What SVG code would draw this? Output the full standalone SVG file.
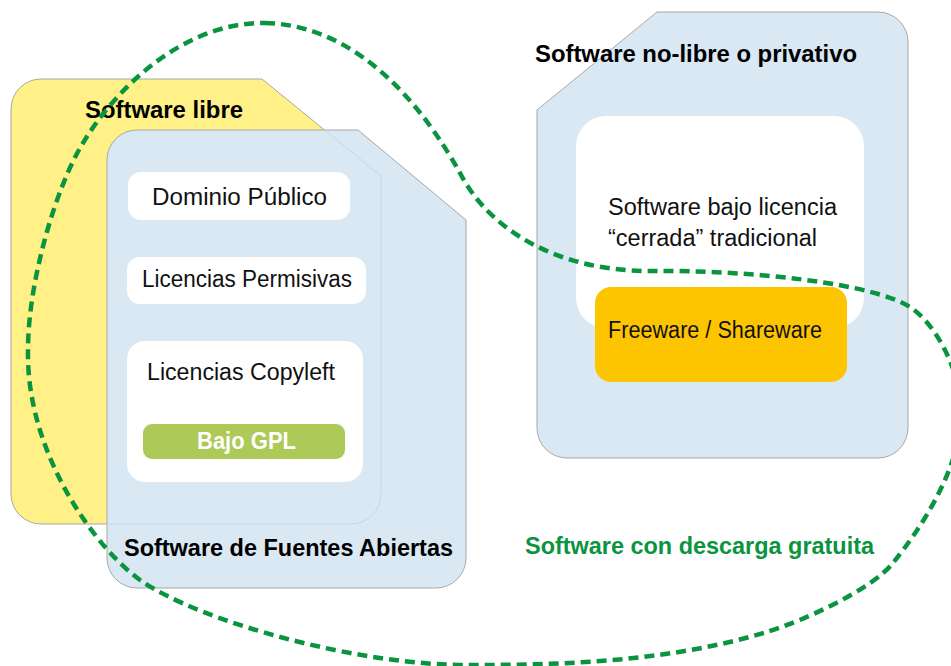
<svg xmlns="http://www.w3.org/2000/svg" width="951" height="666" viewBox="0 0 951 666">
  <style>
    .panel { stroke: #a8a8a8; stroke-width: 1; }
    .yellow { fill: #fff087; }
    .blue { fill: #d9e8f3; }
    .card { fill: #ffffff; }
    .t { font-family: "Liberation Sans", Arial, sans-serif; font-size: 23px; fill: #111111; }
    .title { font-family: "Liberation Sans", Arial, sans-serif; font-size: 24px; font-weight: bold; fill: #000000; }
    .green-title { font-family: "Liberation Sans", Arial, sans-serif; font-size: 24px; font-weight: bold; fill: #0a9440; }
    .gpl { font-family: "Liberation Sans", Arial, sans-serif; font-size: 23px; font-weight: bold; fill: #ffffff; }
    .ghost { fill: none; stroke: #c5d8e6; stroke-width: 1; }
    .boundary { fill: none; stroke: #0a9440; stroke-width: 4.5; stroke-dasharray: 10 6; }
  </style>

  <!-- Software libre -->
  <g id="software-libre">
    <path class="panel yellow" d="M 11,109 A 30,30 0 0 1 41,79 L 262,79 L 381,176 L 381,494 A 30,30 0 0 1 351,524 L 41,524 A 30,30 0 0 1 11,494 Z"/>
    <text class="title" x="85" y="118" textLength="158" lengthAdjust="spacingAndGlyphs">Software libre</text>
  </g>

  <!-- Software de Fuentes Abiertas -->
  <g id="fuentes-abiertas">
    <path class="panel blue" d="M 107,160 A 30,30 0 0 1 137,130 L 358,130 L 466,220 L 466,558 A 30,30 0 0 1 436,588 L 137,588 A 30,30 0 0 1 107,558 Z"/>
    <!-- outline of the free-software panel seen through the open-source panel -->
    <path class="ghost" d="M 325,130 L 381,176 L 381,494 A 30,30 0 0 1 351,524 L 107,524"/>
    <text class="title" x="124" y="556" textLength="329" lengthAdjust="spacingAndGlyphs">Software de Fuentes Abiertas</text>
  </g>

  <g id="dominio-publico">
    <rect class="card" x="128" y="172" width="222" height="48" rx="13"/>
    <text class="t" x="152" y="205" textLength="175" lengthAdjust="spacingAndGlyphs">Dominio Público</text>
  </g>

  <g id="licencias-permisivas">
    <rect class="card" x="127" y="257" width="239" height="47" rx="13"/>
    <text class="t" x="142" y="287" textLength="210" lengthAdjust="spacingAndGlyphs">Licencias Permisivas</text>
  </g>

  <g id="licencias-copyleft">
    <rect class="card" x="127" y="341" width="236" height="141" rx="18"/>
    <text class="t" x="147" y="380" textLength="188" lengthAdjust="spacingAndGlyphs">Licencias Copyleft</text>
  </g>

  <g id="bajo-gpl">
    <rect x="143" y="424" width="202" height="35" rx="9" fill="#adc957"/>
    <text class="gpl" x="197" y="449" textLength="99" lengthAdjust="spacingAndGlyphs">Bajo GPL</text>
  </g>

  <!-- Software no-libre o privativo -->
  <g id="software-privativo">
    <path class="panel blue" d="M 537,110 L 657,12 L 878,12 A 30,30 0 0 1 908,42 L 908,428 A 30,30 0 0 1 878,458 L 567,458 A 30,30 0 0 1 537,428 Z"/>
    <text class="title" x="535" y="62" textLength="322" lengthAdjust="spacingAndGlyphs">Software no-libre o privativo</text>
  </g>

  <g id="licencia-cerrada">
    <rect class="card" x="576" y="116" width="288" height="212" rx="30"/>
    <text class="t" x="608" y="215" textLength="229" lengthAdjust="spacingAndGlyphs">Software bajo licencia</text>
    <text class="t" x="608" y="246" textLength="209" lengthAdjust="spacingAndGlyphs">“cerrada” tradicional</text>
  </g>

  <g id="freeware-shareware">
    <rect x="595" y="287" width="252" height="95" rx="16" fill="#fdc500"/>
    <text class="t" x="608" y="338" textLength="214" lengthAdjust="spacingAndGlyphs">Freeware / Shareware</text>
  </g>

  <!-- Dashed outline of the free-download set -->
  <g id="descarga-gratuita">
    <path class="boundary" d="M 265,23
      C 360,25 425,110 460,173
      C 488,228 555,271 650,271
      C 750,270 872,283 910,307
      C 935,323 961,370 961,413
      C 961,470 918,532 893,563
      C 871,590 805,620 767,632
      C 671,661 570,665 470,665
      C 360,666 200,622 140,580
      C 92,545 26,450 28,350
      C 28,280 57,185 83,143
      C 112,94 180,22 265,23 Z"/>
    <text class="green-title" x="525" y="554" textLength="349" lengthAdjust="spacingAndGlyphs">Software con descarga gratuita</text>
  </g>
</svg>
